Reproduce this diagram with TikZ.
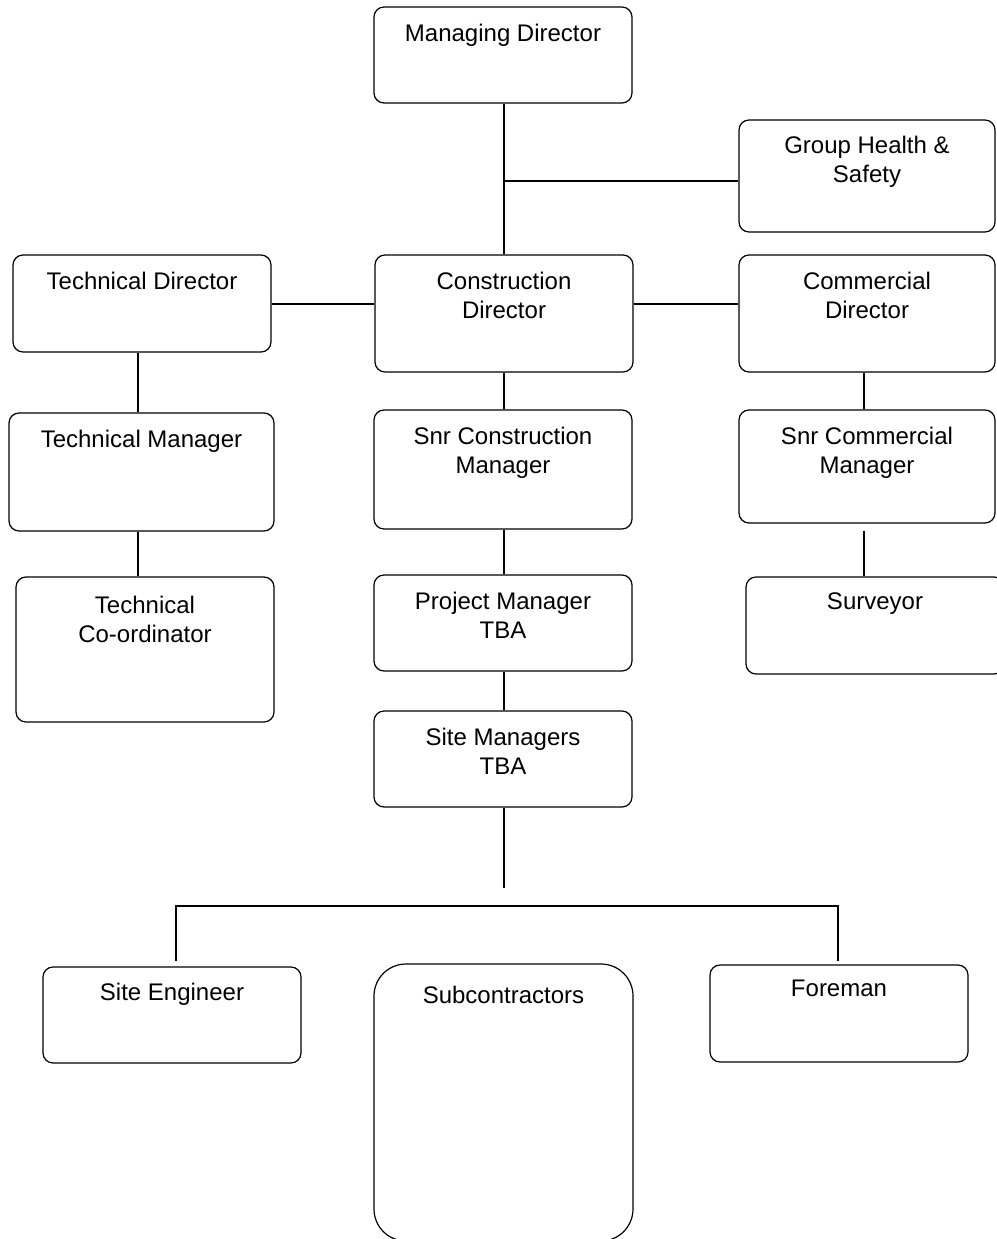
\documentclass[tikz,border=0pt]{standalone}
\usepackage{fontspec}
\setmainfont{Liberation Sans}
\begin{document}
\begin{tikzpicture}[x=1pt,y=-1pt,
  box/.style={draw, line width=1.2pt, rounded corners=10pt, inner sep=0pt},
  lbl/.style={anchor=north, inner sep=0pt, align=center, font=\fontsize{24}{29}\selectfont},
  conn/.style={line width=1.2pt}]
\useasboundingbox (0,0) rectangle (996,1239);
% boxes
\node[box, minimum width=258pt, minimum height=96pt] (md) at (503,55) {};
\node[box, minimum width=256pt, minimum height=112pt] (ghs) at (867,176) {};
\node[box, minimum width=258pt, minimum height=97pt] (td) at (142,303.5) {};
\node[box, minimum width=258pt, minimum height=117pt] (cd) at (504,313.5) {};
\node[box, minimum width=256pt, minimum height=117pt] (comd) at (867,313.5) {};
\node[box, minimum width=265pt, minimum height=118pt] (tm) at (141.5,472) {};
\node[box, minimum width=258pt, minimum height=119pt] (scm) at (503,469.5) {};
\node[box, minimum width=256pt, minimum height=113pt] (scmm) at (867,466.5) {};
\node[box, minimum width=258pt, minimum height=145pt] (tc) at (145,649.5) {};
\node[box, minimum width=258pt, minimum height=96pt] (pm) at (503,623) {};
\node[box, minimum width=258pt, minimum height=97pt] (sv) at (875,625.5) {};
\node[box, minimum width=258pt, minimum height=96pt] (sm) at (503,759) {};
\node[box, minimum width=258pt, minimum height=96pt] (se) at (172,1015) {};
\node[box, rounded corners=32pt, minimum width=259pt, minimum height=277pt] (sub) at (503.5,1102.5) {};
\node[box, minimum width=258pt, minimum height=97pt] (fm) at (839,1013.5) {};
% labels
\node[lbl] (tmd) at (503,24) {Managing Director};
\node[lbl] (tghs) at (867,136) {Group Health \&\\Safety};
\node[lbl] (ttd) at (142,272) {Technical Director};
\node[lbl] (tcd) at (504,272) {Construction\\Director};
\node[lbl] (tcomd) at (867,272) {Commercial\\Director};
\node[lbl] (ttm) at (141.5,430) {Technical Manager};
\node[lbl] (tscm) at (503,426.5) {Snr Construction\\Manager};
\node[lbl] (tscmm) at (867,426.5) {Snr Commercial\\Manager};
\node[lbl] (ttc) at (145,595.5) {Technical\\Co-ordinator};
\node[lbl] (tpm) at (503,591.5) {Project Manager\\TBA};
\node[lbl] (tsv) at (875,593) {Surveyor};
\node[lbl] (tsm) at (503,727.5) {Site Managers\\TBA};
\node[lbl] (tse) at (172,983) {Site Engineer};
\node[lbl] (tsub) at (503.5,986) {Subcontractors};
\node[lbl] (tfm) at (839,980) {Foreman};
% helper coordinates
\coordinate (cx) at (504,0);
\coordinate (lx) at (138,0);
\coordinate (rx) at (864,0);
\coordinate (ry) at (0,304);
\coordinate (j1) at (504,181);
\coordinate (j2) at (504,888);
\coordinate (hl) at (176,906);
\coordinate (hr) at (838,906);
% connectors
\draw[conn] (md.south -| cx) -- (cd.north -| cx);
\draw[conn] (j1) -- (j1 -| ghs.west);
\draw[conn] (td.east |- ry) -- (cd.west |- ry);
\draw[conn] (cd.east |- ry) -- (comd.west |- ry);
\draw[conn] (td.south -| lx) -- (tm.north -| lx);
\draw[conn] (tm.south -| lx) -- (tc.north -| lx);
\draw[conn] (cd.south -| cx) -- (scm.north -| cx);
\draw[conn] (scm.south -| cx) -- (pm.north -| cx);
\draw[conn] (pm.south -| cx) -- (sm.north -| cx);
\draw[conn] (sm.south -| cx) -- (j2);
\draw[conn] ([yshift=5pt]se.north -| hl) -- (hl) -- (hr) -- ([yshift=3pt]fm.north -| hr);
\draw[conn] (comd.south -| rx) -- (scmm.north -| rx);
\draw[conn] ([yshift=-7pt]scmm.south -| rx) -- (sv.north -| rx);
\end{tikzpicture}
\end{document}
